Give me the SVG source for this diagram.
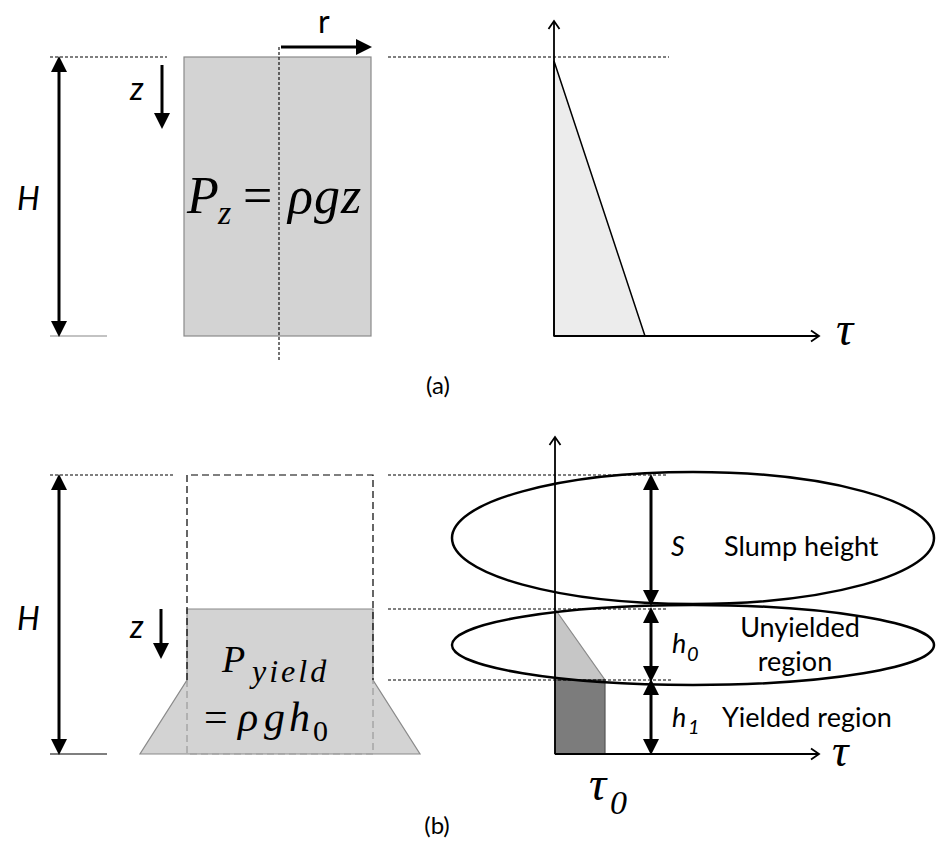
<svg xmlns="http://www.w3.org/2000/svg" width="936" height="846" viewBox="0 0 936 846">
<style>
.dash{stroke:#000;stroke-width:1.1;stroke-dasharray:3,2;fill:none}
.thick{stroke:#000;stroke-width:3;fill:none}
.axis{stroke:#000;stroke-width:1.8;fill:none}
.lbl{font-family:Lato,"Open Sans",sans-serif;fill:#000}
.it{font-style:italic}
.math{font-family:"Liberation Serif","DejaVu Serif",serif;fill:#000}
</style>
<defs>
<marker id="fh" markerUnits="userSpaceOnUse" markerWidth="16" markerHeight="16" refX="0" refY="7.5" orient="auto-start-reverse" viewBox="0 0 15 15">
<path d="M0,0 L15,7.5 L0,15 z" fill="#000"/>
</marker>
<marker id="oh" markerUnits="userSpaceOnUse" markerWidth="12" markerHeight="14" refX="9" refY="6" orient="auto" viewBox="0 0 12 12">
<path d="M1,0.5 L9,6 L1,11.5" fill="none" stroke="#000" stroke-width="1.8"/>
</marker>
</defs>

<!-- Panel (a) -->
<g id="a-column">
<rect x="184" y="57" width="187" height="279" fill="#d3d3d3" stroke="#8a8a8a" stroke-width="1.2"/>
<text class="math" font-size="52"><tspan x="187" y="213" font-style="italic">P</tspan><tspan x="218" y="224" font-size="34" font-style="italic">z</tspan><tspan x="243" y="213">=</tspan><tspan x="288" y="213" font-style="italic">ρ</tspan><tspan x="314" y="213" font-style="italic">g</tspan><tspan x="341" y="213" font-style="italic">z</tspan></text>
</g>
<g id="a-plot">
<polygon points="554,61 554,336 645,336" fill="#ececec" stroke="#000" stroke-width="1.5"/>
<text class="math it" x="836" y="345" font-size="48">τ</text>
</g>
<g id="a-labels">
<text class="lbl" x="318" y="33" font-size="32">r</text>
<text class="lbl it" x="130" y="100" font-size="32">z</text>
<text class="lbl it" x="17" y="210" font-size="32">H</text>
<text class="lbl" x="438" y="394" font-size="24" text-anchor="middle">(a)</text>
</g>

<!-- Panel (b) -->
<g id="b-slumped">
<path d="M187,609 L373,609 L373,680 L420,754 L140,754 L187,680 Z" fill="#d3d3d3" stroke="#8a8a8a" stroke-width="1.2"/>
<path d="M187,680 L187,754 L373,754 L373,680" fill="none" stroke="#9a9a9a" stroke-width="1.2" stroke-dasharray="7,4"/>
<path d="M187,680 L187,475 L373,475 L373,680" fill="none" stroke="#000" stroke-width="1.2" stroke-dasharray="7,4"/>
<text class="math" font-size="38"><tspan x="222" y="672" font-style="italic">P</tspan><tspan x="252" y="682" font-size="32" font-style="italic" letter-spacing="3">yield</tspan></text>
<text class="math" font-size="42"><tspan x="204" y="731">=</tspan><tspan x="238" y="731" font-style="italic">ρ</tspan><tspan x="264" y="731" font-style="italic">g</tspan><tspan x="289" y="731" font-style="italic">h</tspan><tspan x="313" y="741" font-size="30">0</tspan></text>
</g>
<g id="b-plot">
<polygon points="555,609 605,680 555,680" fill="#c6c6c6" stroke="#8a8a8a" stroke-width="1.2"/>
<rect x="555" y="680" width="50" height="74" fill="#7c7c7c" stroke="#555" stroke-width="1.2"/>
<text class="math it" x="832" y="766" font-size="46">τ</text>
<text class="math it" font-size="48"><tspan x="589" y="800">τ</tspan><tspan x="610" y="814" font-size="34">0</tspan></text>
</g>
<g id="b-slump-ellipse">
<ellipse cx="693" cy="538" rx="241" ry="66" fill="none" stroke="#000" stroke-width="2.5"/>
<text class="lbl it" x="671" y="556" font-size="27">S</text>
<text class="lbl" x="724" y="556" font-size="27">Slump height</text>
</g>
<g id="b-unyielded-ellipse">
<ellipse cx="693" cy="645" rx="241" ry="40" fill="none" stroke="#000" stroke-width="2.5"/>
<text class="lbl it" font-size="27"><tspan x="672" y="653">h</tspan><tspan x="687" y="661" font-size="20">0</tspan></text>
<text class="lbl" x="800" y="637" font-size="27" text-anchor="middle">Unyielded</text>
<text class="lbl" x="795" y="671" font-size="27" text-anchor="middle">region</text>
</g>
<g id="b-yielded">
<text class="lbl it" font-size="27"><tspan x="672" y="727">h</tspan><tspan x="688" y="734" font-size="20">1</tspan></text>
<text class="lbl" x="722" y="727" font-size="27">Yielded region</text>
</g>
<g id="b-labels">
<text class="lbl it" x="130" y="638" font-size="32">z</text>
<text class="lbl it" x="17" y="630" font-size="32">H</text>
<text class="lbl" x="437" y="834" font-size="24" text-anchor="middle">(b)</text>
</g>

<!-- Connectors -->
<g id="connectors">
<!-- (a) -->
<line class="dash" x1="50" y1="57" x2="167" y2="57"/>
<line class="dash" x1="388" y1="57" x2="669" y2="57"/>
<line class="dash" x1="279" y1="47" x2="279" y2="360"/>
<line x1="50" y1="336" x2="107" y2="336" stroke="#888" stroke-width="1.2"/>
<line class="thick" x1="59" y1="72" x2="59" y2="321" marker-start="url(#fh)" marker-end="url(#fh)"/>
<line class="thick" x1="162" y1="65" x2="162" y2="113" marker-end="url(#fh)"/>
<line class="thick" x1="281" y1="47" x2="356" y2="47" marker-end="url(#fh)"/>
<line class="axis" x1="554" y1="336" x2="554" y2="21" marker-end="url(#oh)"/>
<line class="axis" x1="554" y1="336" x2="819" y2="336" marker-end="url(#oh)"/>
<!-- (b) -->
<line class="dash" x1="50" y1="475" x2="175" y2="475"/>
<line class="dash" x1="388" y1="475" x2="668" y2="475"/>
<line class="dash" x1="388" y1="609" x2="668" y2="609"/>
<line class="dash" x1="388" y1="680" x2="672" y2="680"/>
<line x1="50" y1="754" x2="107" y2="754" stroke="#000" stroke-width="1.2"/>
<line class="thick" x1="59" y1="490" x2="59" y2="739" marker-start="url(#fh)" marker-end="url(#fh)"/>
<line class="thick" x1="161" y1="609" x2="161" y2="643" marker-end="url(#fh)"/>
<line class="axis" x1="555" y1="754" x2="555" y2="437" marker-end="url(#oh)"/>
<line class="axis" x1="555" y1="754" x2="819" y2="754" marker-end="url(#oh)"/>
<line class="thick" x1="651" y1="490" x2="651" y2="590" marker-start="url(#fh)" marker-end="url(#fh)"/>
<line class="thick" x1="651" y1="623" x2="651" y2="666" marker-start="url(#fh)" marker-end="url(#fh)"/>
<line class="thick" x1="651" y1="695" x2="651" y2="739" marker-start="url(#fh)" marker-end="url(#fh)"/>
</g>
</svg>
